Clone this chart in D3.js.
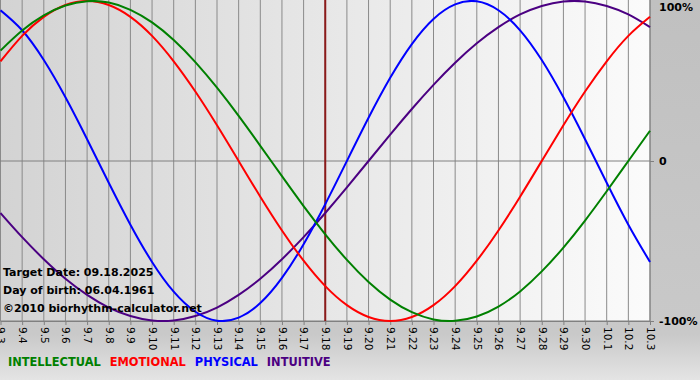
<!DOCTYPE html>
<html><head><meta charset="utf-8">
<script src="https://cdn.jsdelivr.net/npm/d3@7"></script>
<style>body{margin:0;background:#c3c3c3;}svg{display:block;}</style>
</head><body>
<svg id="c" width="700" height="380"></svg>
<script>
const days = ["9.3","9.4","9.5","9.6","9.7","9.8","9.9","9.10","9.11","9.12","9.13","9.14","9.15","9.16","9.17","9.18","9.19","9.20","9.21","9.22","9.23","9.24","9.25","9.26","9.27","9.28","9.29","9.30","10.1","10.2","10.3"];
const physical = [0.942,0.817,0.631,0.398,0.136,-0.136,-0.398,-0.631,-0.817,-0.942,-0.998,-0.979,-0.888,-0.731,-0.520,-0.270,0,0.270,0.520,0.731,0.888,0.979,0.998,0.942,0.817,0.631,0.398,0.136,-0.136,-0.398,-0.631];
const emotional = [0.623,0.782,0.901,0.975,1.0,0.975,0.901,0.782,0.623,0.434,0.223,0,-0.223,-0.434,-0.623,-0.782,-0.901,-0.975,-1.0,-0.975,-0.901,-0.782,-0.623,-0.434,-0.223,0,0.223,0.434,0.623,0.782,0.901];
const intellectual = [0.690,0.815,0.910,0.972,0.999,0.990,0.945,0.866,0.756,0.618,0.458,0.282,0.095,-0.095,-0.282,-0.458,-0.618,-0.756,-0.866,-0.945,-0.990,-0.999,-0.972,-0.910,-0.815,-0.690,-0.541,-0.372,-0.189,0,0.189];
const intuitive = [-0.325,-0.476,-0.614,-0.736,-0.837,-0.916,-0.969,-0.997,-0.997,-0.969,-0.916,-0.837,-0.736,-0.614,-0.476,-0.325,-0.165,0,0.165,0.325,0.476,0.614,0.736,0.837,0.916,0.969,0.997,0.997,0.969,0.916,0.837];
const yTicks = [1, 0, -1];
const yTickLabels = ["100%", "0", "-100%"];
const targetDay = "9.18";
const infoLines = ["Target Date: 09.18.2025", "Day of birth: 06.04.1961", "\u00a92010 biorhythm-calculator.net"];
const legendNames = ["INTELLECTUAL", "EMOTIONAL", "PHYSICAL", "INTUITIVE"];

const svg = d3.select("#c");
const L = 0.5, R = 650, T = 1, B = 321;
const FONT = "Verdana, 'DejaVu Sans', sans-serif";
const x = d3.scalePoint().domain(days).range([L, R]);
const y = d3.scaleLinear().domain([-1, 1]).range([B, T]);

const defs = svg.append("defs");
const bg = defs.append("linearGradient").attr("id","bgG").attr("x1",0).attr("x2",0).attr("y1",0).attr("y2",1);
bg.append("stop").attr("offset","0").attr("stop-color","#c0c0c0");
bg.append("stop").attr("offset","0.88").attr("stop-color","#c9c9c9");
bg.append("stop").attr("offset","1").attr("stop-color","#e4e4e4");
const pg = defs.append("linearGradient").attr("id","plotG").attr("x1",0).attr("x2",1).attr("y1",0).attr("y2",0);
pg.append("stop").attr("offset","0").attr("stop-color","#d3d3d3");
pg.append("stop").attr("offset","1").attr("stop-color","#fbfbfb");
defs.append("clipPath").attr("id","clip").append("rect").attr("x",0).attr("y",0).attr("width",R+1).attr("height",B+1);

svg.append("rect").attr("width",700).attr("height",380).attr("fill","url(#bgG)");
svg.append("rect").attr("x",0).attr("y",0).attr("width",R).attr("height",B).attr("fill","url(#plotG)");

const xAxis = d3.axisBottom(x).tickSize(4).tickSizeOuter(0).tickPadding(3);
const gx = svg.append("g").attr("transform",`translate(0,${B})`).call(xAxis);
gx.select(".domain").attr("stroke","#808080");
gx.selectAll(".tick line").attr("stroke","#808080");
gx.selectAll(".tick text")
  .attr("transform","rotate(90)")
  .attr("x",6).attr("y",0).attr("dy","0.35em")
  .style("text-anchor","start")
  .attr("font-family",FONT)
  .attr("font-size","10.5px").attr("fill","#000");

svg.append("g").selectAll("line").data(days).join("line")
  .attr("x1",d=>x(d)).attr("x2",d=>x(d)).attr("y1",0).attr("y2",B)
  .attr("stroke","#8a8a8a").attr("stroke-width",1);
svg.append("line").attr("x1",0).attr("x2",R).attr("y1",y(0)).attr("y2",y(0)).attr("stroke","#808080");
svg.append("line").attr("x1",R).attr("x2",R).attr("y1",0).attr("y2",B).attr("stroke","#808080");
svg.append("line").attr("x1",0).attr("x2",R).attr("y1",B).attr("y2",B).attr("stroke","#808080");

const ya = d3.axisRight(y).tickValues(yTicks).tickSize(4).tickFormat((d,i)=>yTickLabels[i]).tickPadding(5);
const gy = svg.append("g").attr("transform",`translate(${R},0)`).call(ya);
gy.select(".domain").remove();
gy.selectAll(".tick line").attr("stroke","#808080");
gy.selectAll(".tick line").filter(d=>d===1).remove();
gy.selectAll(".tick text").attr("font-family",FONT).attr("font-size","11px").attr("font-weight","bold").attr("fill","#000")
  .attr("dy",(d)=> d===1 ? "0.85em" : "0.32em");

svg.append("line").attr("x1",x(targetDay)).attr("x2",x(targetDay)).attr("y1",0).attr("y2",B)
  .attr("stroke","#8b1a1a").attr("stroke-width",2);

const series = [
  {name:"INTELLECTUAL", vals:intellectual, color:"#008000"},
  {name:"EMOTIONAL", vals:emotional, color:"#ff0000"},
  {name:"PHYSICAL", vals:physical, color:"#0000ff"},
  {name:"INTUITIVE", vals:intuitive, color:"#4b0082"}
];
const line = d3.line().x((d,i)=>x(days[i])).y(d=>y(d)).curve(d3.curveNatural);
const gl = svg.append("g").attr("clip-path","url(#clip)");
[3,2,1,0].forEach(k=>{
  gl.append("path").attr("d",line(series[k].vals)).attr("fill","none")
    .attr("stroke",series[k].color).attr("stroke-width",2);
});

svg.append("g").selectAll("text").data(infoLines).join("text")
  .attr("x",3).attr("y",(d,i)=>276+i*18)
  .attr("font-family",FONT).attr("font-size","11px").attr("font-weight","bold")
  .attr("fill","#000").text(d=>d);

const lg = svg.append("g").attr("font-family",FONT).attr("font-size","11.4px").attr("font-weight","bold");
let lx = 8;
legendNames.forEach((n,i)=>{
  const t = lg.append("text").attr("x",lx).attr("y",366).attr("fill",series[i].color).text(n);
  lx += t.node().getComputedTextLength() + 9;
});
</script>
</body></html>
